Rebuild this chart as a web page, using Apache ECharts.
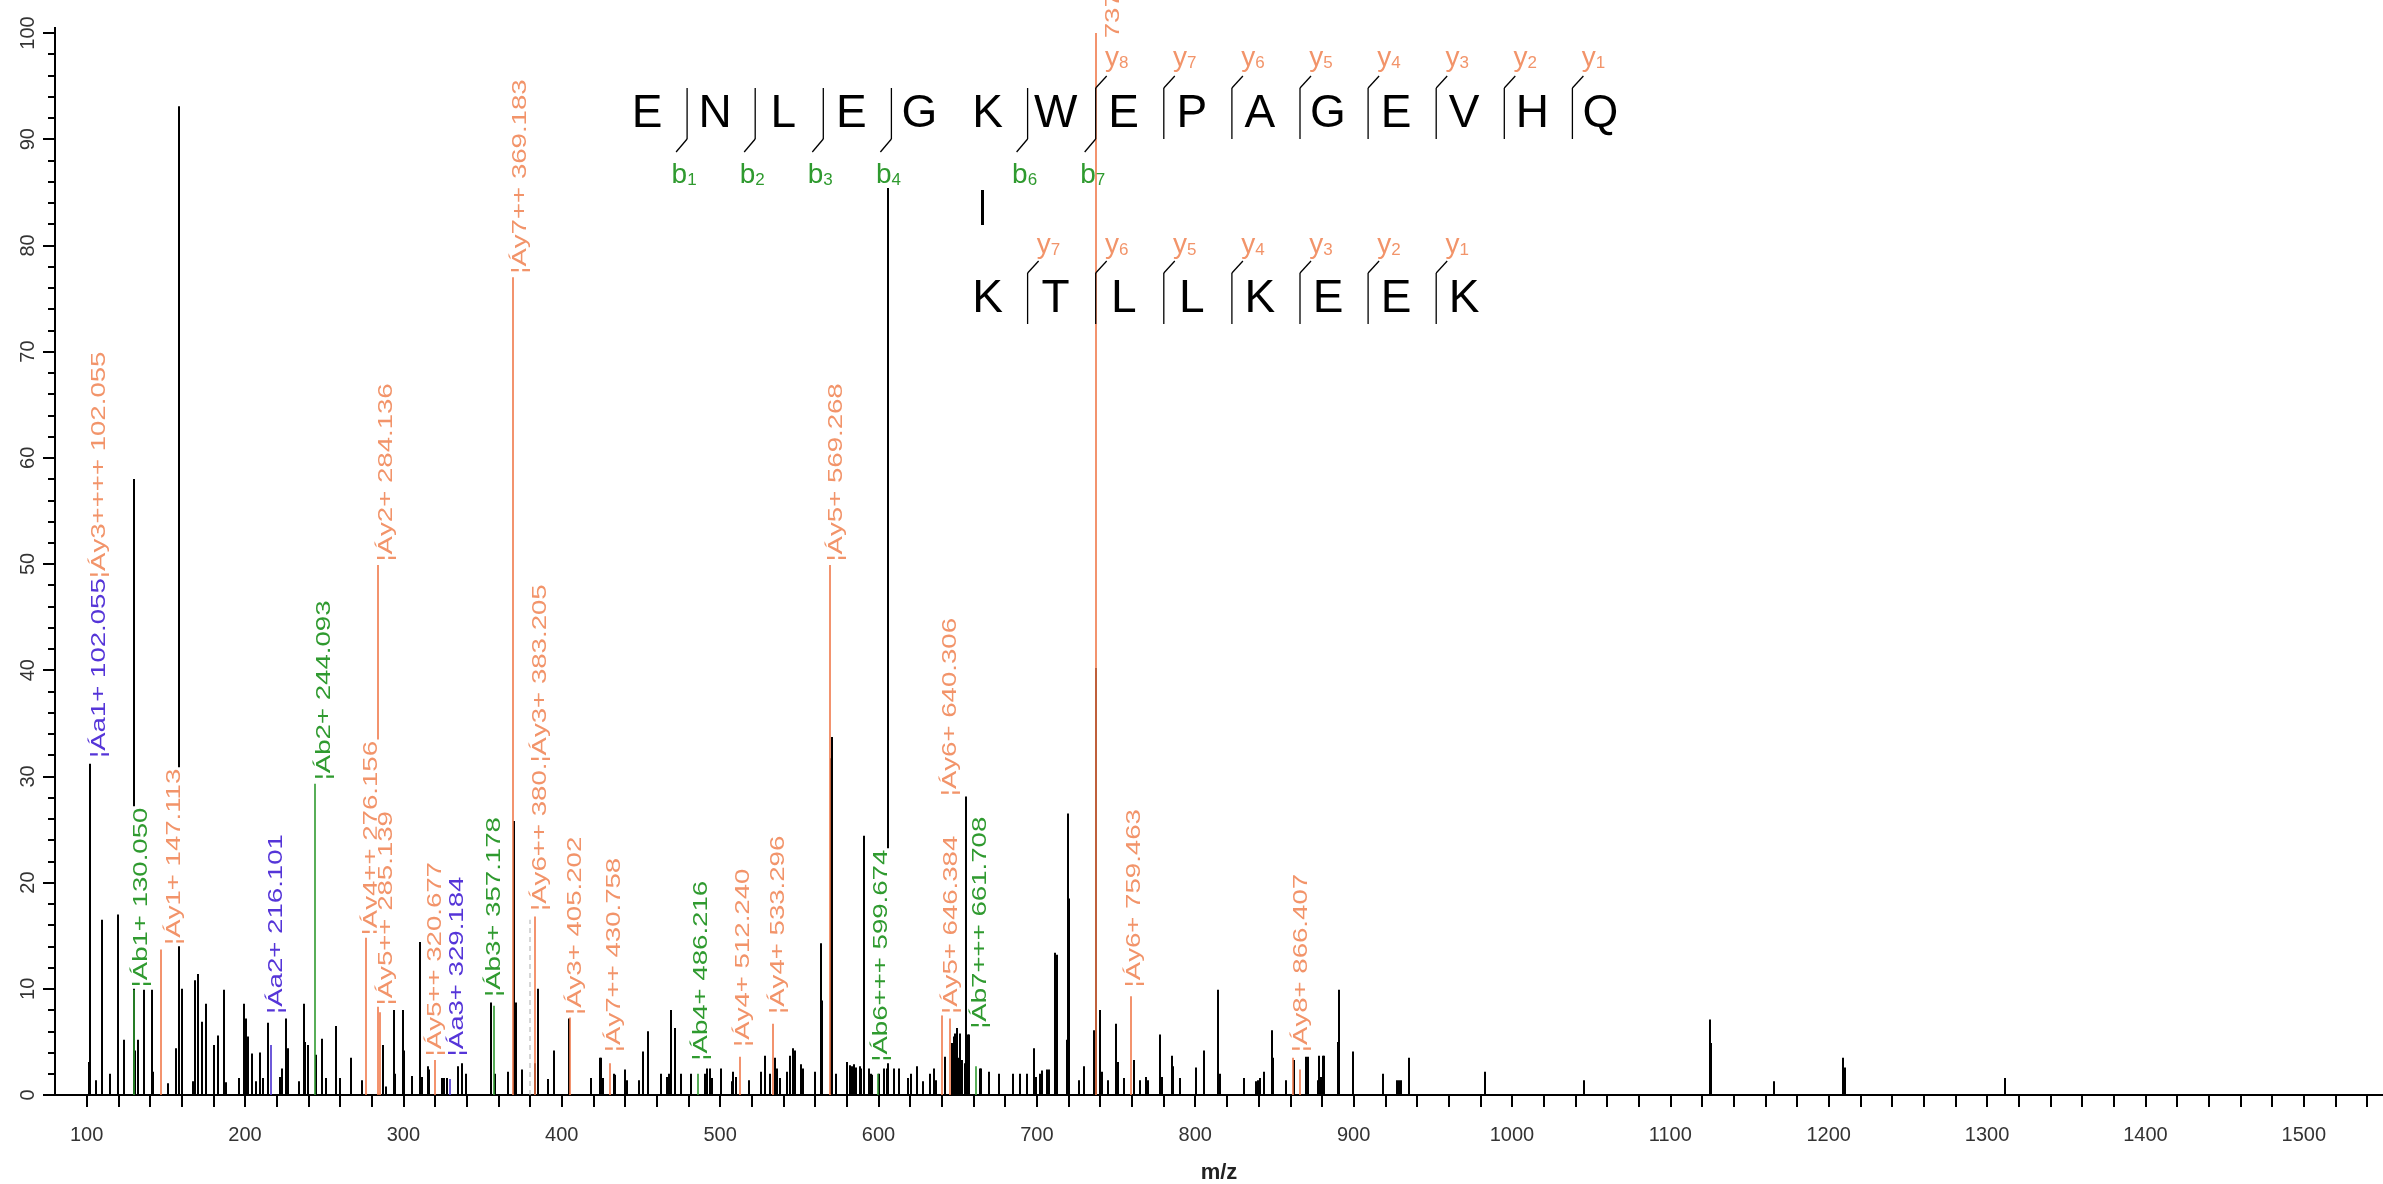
<!DOCTYPE html>
<html>
<head>
<meta charset="utf-8">
<script src="https://cdn.jsdelivr.net/npm/echarts/dist/echarts.min.js"></script>
<style>
  html, body { margin: 0; padding: 0; background: #fff; overflow: hidden; }
  #chart { width: 2383px; height: 1184px; }
</style>
</head>
<body>
<div id="chart"></div>
<script>
// ---------------- data ----------------
const xLabelValues = [100, 200, 300, 400, 500, 600, 700, 800, 900, 1000, 1100, 1200, 1300, 1400, 1500];
const yLabelValues = [0, 10, 20, 30, 40, 50, 60, 70, 80, 90, 100];

// unannotated peaks [m/z, relative intensity %]
const blackPeaks = [
  [101.3,3.1],[102.055,31.2],[105.9,1.4],[109.7,16.5],[114.9,2.0],[119.6,17.0],[123.8,5.2],
  [129.6,58.0],[130.6,4.2],[132.4,5.2],[136.2,9.9],[141.3,9.9],[142.1,2.2],[151.4,1.1],
  [156.4,4.4],[158.5,93.1],[160.5,10.0],[167.0,1.3],[168.6,10.8],[170.1,11.4],[172.8,6.9],
  [175.4,8.6],[180.4,4.7],[183.2,5.6],[186.9,9.9],[188.0,1.2],[196.0,1.6],[199.4,8.6],
  [200.6,7.2],[201.7,5.5],[204.4,3.9],[206.9,1.3],[209.7,4.0],[211.2,1.6],[214.5,6.8],
  [222.0,1.7],[223.4,2.5],[225.9,7.2],[227.0,4.4],[233.9,1.3],[237.1,8.6],[238.1,5.0],
  [239.6,4.7],[244.6,3.8],[248.4,5.3],[251.2,1.6],[257.5,6.5],[260.0,1.6],[267.0,3.5],
  [273.9,1.4],[287.0,4.7],[288.9,0.8],[294.3,8.0],[294.9,2.0],[299.6,8.0],[300.3,4.2],
  [305.5,1.8],[310.5,14.4],[311.6,1.7],[315.4,2.7],[316.4,2.4],[324.4,1.6],[325.8,1.6],
  [327.3,1.6],[334.3,2.7],[337.0,3.0],[339.6,2.0],[355.0,8.7],[357.6,2.0],[366.3,2.2],
  [369.9,25.8],[371.0,8.7],[374.9,2.4],[383.4,3.0],[384.8,10.0],[391.2,1.5],[394.9,4.2],
  [404.4,7.2],[418.5,1.6],[424.2,3.5],[424.9,3.5],[426.3,1.6],[433.2,2.0],[433.8,1.9],
  [440.2,2.4],[441.0,1.4],[449.0,1.4],[451.5,4.1],[454.2,6.0],[462.6,2.0],[466.4,1.7],
  [467.9,2.0],[469.2,8.0],[471.7,6.3],[475.5,2.0],[481.6,2.0],[490.6,2.0],[492.0,2.5],
  [493.5,2.5],[494.8,1.6],[500.7,2.5],[507.4,1.3],[508.4,2.2],[509.9,1.7],[518.3,1.4],
  [525.9,2.2],[528.4,3.7],[531.3,2.0],[534.7,3.5],[536.2,2.5],[537.7,1.6],[542.5,2.2],
  [544.0,3.7],[546.0,4.4],[547.3,4.2],[550.9,2.9],[552.4,2.5],[559.9,2.2],[563.5,14.3],
  [564.5,8.9],[569.7,31.7],[570.4,33.7],[572.9,2.0],[580.3,3.1],[581.8,2.8],[583.5,2.7],
  [584.5,2.9],[586.0,2.6],[588.0,2.7],[589.2,2.5],[590.8,24.4],[593.9,2.5],[595.0,2.0],
  [596.0,1.9],[600.3,2.0],[603.4,2.5],[605.5,2.5],[606.2,88.0],[609.7,2.5],[612.9,2.5],
  [618.7,1.6],[620.8,2.0],[624.0,2.7],[628.0,1.3],[632.8,2.0],[634.9,2.5],[636.4,1.4],
  [642.0,3.6],[646.5,4.9],[647.5,5.5],[648.6,5.8],[649.6,6.3],[650.7,3.5],[651.7,5.8],
  [652.7,3.3],[654.8,3.0],[655.5,28.1],[656.5,5.7],[657.4,5.7],[664.0,2.5],[664.9,2.5],
  [669.6,2.2],[676.3,2.0],[684.7,2.0],[689.5,2.0],[693.7,2.0],[697.9,4.4],[699.4,1.7],
  [702.1,2.0],[703.5,2.3],[706.3,2.4],[707.8,2.4],[711.6,13.4],[712.6,13.2],[718.9,5.2],
  [719.7,26.5],[720.3,18.5],[726.3,1.4],[729.5,2.7],[735.8,6.1],[737.6,40.2],[740.0,8.0],
  [741.0,2.2],[745.2,1.4],[750.0,6.7],[751.1,3.1],[755.3,1.6],[761.4,3.3],[765.2,1.4],
  [768.9,1.7],[769.9,1.4],[777.7,5.7],[778.8,1.7],[785.1,3.7],[786.1,2.7],[790.3,1.6],
  [800.2,2.6],[805.4,4.2],[814.4,9.9],[815.5,2.0],[830.8,1.6],[838.1,1.3],[839.6,1.4],
  [840.8,1.6],[843.1,2.2],[848.4,6.1],[849.2,3.5],[857.4,1.4],[862.2,3.3],[870.0,3.6],
  [871.0,3.6],[877.3,1.4],[878.4,3.7],[879.4,1.7],[880.5,3.7],[881.4,3.7],[889.9,5.0],
  [891.0,9.9],[899.7,4.1],[918.8,2.0],[927.2,1.4],[928.7,1.4],[930.2,1.4],[935.0,3.5],
  [982.8,2.2],[1045.7,1.4],[1125.3,7.1],[1125.8,4.9],[1165.6,1.3],[1209.1,3.5],[1210.0,2.6],
  [1311.2,1.6]
];
// matched y ions (orange)
const yIonPeaks = [
  [147.113,13.7],[276.156,14.8],[284.136,49.9],[285.139,7.8],[320.2,3.3],[369.183,77.0],
  [383.205,16.8],[405.202,7.3],[430.758,3.0],[512.240,3.6],[533.296,6.7],[569.268,49.9],
  [640.306,7.5],[645.2,7.2],[737.4,100],[759.463,9.3],[861.6,3.5],[866.407,2.4]
];
// matched b ions (green)
const bIonPeaks = [[130.050,9.9],[244.093,29.3],[357.178,8.4],[486.216,2.0],[599.674,2.0],[661.708,2.7]];
// matched a ions (blue)
const aIonPeaks = [[216.101,4.7],[329.184,1.5]];
// tentative match (dashed)
const dashedPeaks = [[380.2,16.5]];

// annotations: [label centre m/z, label base intensity, text]
const annotations = [
  [108.0, 31.6, '{a|¦Áa1+ 102.055}{y|¦Áy3++++ 102.055}'],
  [134.5, 10.0, '{b|¦Áb1+ 130.050}'],
  [155.5, 14.0, '{y|¦Áy1+ 147.113}'],
  [220.0, 7.5,  '{a|¦Áa2+ 216.101}'],
  [250.0, 29.5, '{b|¦Áb2+ 244.093}'],
  [280.0, 14.9, '{y|¦Áy4++ 276.156}'],
  [289.0, 50.1, '{y|¦Áy2+ 284.136}'],
  [289.5, 8.3,  '{y|¦Áy5++ 285.139}'],
  [320.5, 3.5,  '{y|¦Áy5++ 320.677}'],
  [334.0, 3.5,  '{a|¦Áa3+ 329.184}'],
  [357.5, 9.1,  '{b|¦Áb3+ 357.178}'],
  [373.8, 77.2, '{y|¦Áy7++ 369.183}'],
  [386.8, 17.2, '{y|¦Áy6++ 380.¦Áy3+ 383.205}'],
  [408.5, 7.4,  '{y|¦Áy3+ 405.202}'],
  [433.5, 3.9,  '{y|¦Áy7++ 430.758}'],
  [488.5, 3.1,  '{b|¦Áb4+ 486.216}'],
  [515.0, 4.4,  '{y|¦Áy4+ 512.240}'],
  [536.7, 7.5,  '{y|¦Áy4+ 533.296}'],
  [573.5, 50.1, '{y|¦Áy5+ 569.268}'],
  [601.7, 3.0,  '{b|¦Áb6+++ 599.674}'],
  [645.2, 28.0, '{y|¦Áy6+ 640.306}'],
  [645.8, 7.5,  '{y|¦Áy5+ 646.384}'],
  [664.5, 6.1,  '{b|¦Áb7+++ 661.708}'],
  [761.6, 10.0, '{y|¦Áy6+ 759.463}'],
  [867.0, 3.9,  '{y|¦Áy8+ 866.407}']
];
// label of the base peak, largely hidden behind the sequence panel
const basePeakLabel = [748.5, 85.4, '{y|¦Áy8++ 737.737}'];

// peptide sequences
const sequence1 = ['E','N','L','E','G','K','W','E','P','A','G','E','V','H','Q'];
const sequence2 = ['K','T','L','L','K','E','E','K'];
const bIons1 = [1, 2, 3, 4, 6, 7];
const yIons1 = [8, 7, 6, 5, 4, 3, 2, 1];
const yIons2 = [7, 6, 5, 4, 3, 2, 1];
const linkResidue1 = 5; // K in sequence 1 linked to first K of sequence 2

// ---------------- styles ----------------
const C_BLACK = '#000000';
const C_Y_LINE = '#F0784A';
const C_Y_TEXT = '#F2946A';
const C_B_LINE = '#2F9A2F';
const C_B_TEXT = '#2F9A2F';
const C_A_LINE = '#4A30D0';
const C_A_TEXT = '#5535D8';
const FONT = '"Liberation Sans", Arial, sans-serif';

const chart = echarts.init(document.getElementById('chart'), null, { renderer: 'canvas' });

function peakSeries(name, data, color, width, z, dash) {
  return {
    type: 'custom', name: name, data: data, z: z, silent: true,
    encode: { x: 0, y: 1 },
    renderItem: function (params, api) {
      const b = api.coord([api.value(0), 0]);
      const t = api.coord([api.value(0), api.value(1)]);
      const x = Math.round(b[0]);
      return {
        type: 'line',
        shape: { x1: x, y1: b[1], x2: x, y2: t[1] },
        style: { stroke: color, lineWidth: width, lineDash: dash ? [5, 4] : null }
      };
    }
  };
}

const LABEL_FONT = 20;
const LABEL_STRETCH = 1.38;
const richStyles = {
  a: { fill: C_A_TEXT, fontSize: LABEL_FONT, fontFamily: FONT },
  b: { fill: C_B_TEXT, fontSize: LABEL_FONT, fontFamily: FONT },
  y: { fill: C_Y_TEXT, fontSize: LABEL_FONT, fontFamily: FONT }
};

function labelSeries(name, rows, z) {
  return {
    type: 'custom', name: name, z: z, silent: true,
    data: rows.map(function (a, i) { return [a[0], a[1], i]; }),
    encode: { x: 0, y: 1 },
    renderItem: function (params, api) {
      const p = api.coord([api.value(0), api.value(1)]);
      const txt = rows[api.value(2)][2];
      return {
        type: 'text',
        x: p[0], y: p[1],
        rotation: Math.PI / 2,
        scaleX: LABEL_STRETCH,
        style: {
          text: txt, rich: richStyles,
          fontSize: LABEL_FONT, fontFamily: FONT,
          textAlign: 'left', textVerticalAlign: 'middle',
          backgroundColor: '#ffffff', padding: [0, 1, 0, 1]
        }
      };
    }
  };
}

// ---------------- peptide graphic ----------------
const SEQ_X0 = 647, SEQ_DX = 68.1, ROW1_Y = 114, ROW2_Y = 299;
const graphics = [];
graphics.push({ type: 'rect', z: 3, silent: true, shape: { x: 630, y: 38, width: 990, height: 150 }, style: { fill: '#ffffff' } });
// small axis overhangs of the original plot frame
graphics.push({ type: 'line', z: 30, silent: true, shape: { x1: 43, y1: 1095, x2: 56, y2: 1095 }, style: { stroke: '#000', lineWidth: 2 } });
graphics.push({ type: 'line', z: 30, silent: true, shape: { x1: 55, y1: 27, x2: 55, y2: 34 }, style: { stroke: '#000', lineWidth: 2 } });
function letter(ch, x, y) {
  graphics.push({ type: 'text', x: x, y: y, z: 20,
    style: { text: ch, fontSize: 46, fontFamily: FONT, fill: '#000', textAlign: 'center', textVerticalAlign: 'middle' } });
}
function seg(x1, y1, x2, y2, w) {
  graphics.push({ type: 'line', z: 20, shape: { x1: x1, y1: y1, x2: x2, y2: y2 }, style: { stroke: '#000', lineWidth: w || 1.3 } });
}
function ionLabel(kind, num, x, y) {
  const col = kind === 'b' ? C_B_TEXT : C_Y_TEXT;
  graphics.push({ type: 'text', x: x, y: y, z: 20,
    style: { text: '{m|' + kind + '}{s|' + num + '}', textAlign: 'center', textVerticalAlign: 'middle',
      rich: { m: { fontSize: 28, fill: col, fontFamily: FONT }, s: { fontSize: 17, fill: col, fontFamily: FONT, verticalAlign: 'bottom' } } } });
}
sequence1.forEach(function (ch, i) { letter(ch, SEQ_X0 + i * SEQ_DX, ROW1_Y); });
sequence2.forEach(function (ch, i) { letter(ch, SEQ_X0 + (linkResidue1 + i) * SEQ_DX, ROW2_Y); });
for (let i = 0; i < sequence1.length - 1; i++) {
  const bNum = i + 1, yNum = sequence1.length - (i + 1);
  const hasB = bIons1.indexOf(bNum) >= 0, hasY = yIons1.indexOf(yNum) >= 0;
  if (!hasB && !hasY) continue;
  const x = SEQ_X0 + (i + 1) * SEQ_DX - 28;
  seg(x, ROW1_Y - 26, x, ROW1_Y + 25);
  if (hasB) { seg(x, ROW1_Y + 25, x - 11, ROW1_Y + 38); ionLabel('b', bNum, x - 3, ROW1_Y + 61); }
  if (hasY) { seg(x, ROW1_Y - 26, x + 11, ROW1_Y - 38); ionLabel('y', yNum, x + 21, ROW1_Y - 56); }
}
for (let i = 0; i < sequence2.length - 1; i++) {
  const yNum = sequence2.length - (i + 1);
  if (yIons2.indexOf(yNum) < 0) continue;
  const x = SEQ_X0 + (linkResidue1 + i + 1) * SEQ_DX - 28;
  seg(x, ROW2_Y - 26, x, ROW2_Y + 25);
  seg(x, ROW2_Y - 26, x + 11, ROW2_Y - 38);
  ionLabel('y', yNum, x + 21, ROW2_Y - 54);
}
seg(SEQ_X0 + linkResidue1 * SEQ_DX - 5, 190, SEQ_X0 + linkResidue1 * SEQ_DX - 5, 225, 3);

const xTickValues = [];
for (let v = 100; v <= 1540; v += 20) xTickValues.push(v);

const option = {
  animation: false,
  backgroundColor: '#ffffff',
  grid: { left: 55, right: 0, top: 33, bottom: 89, containLabel: false, outerBoundsMode: 'none' },
  xAxis: {
    type: 'value', min: 80, max: 1550,
    name: 'm/z', nameLocation: 'middle', nameGap: 67,
    nameTextStyle: { fontSize: 22, fontWeight: 'bold', fontFamily: FONT, color: '#222' },
    axisLine: { show: true, lineStyle: { color: '#000', width: 2 } },
    axisTick: { show: true, length: 12, customValues: xTickValues, lineStyle: { color: '#000', width: 2 } },
    axisLabel: { customValues: xLabelValues, fontSize: 20, fontFamily: FONT, color: '#333', margin: 30,
      formatter: function (v) { return String(v); } },
    splitLine: { show: false }
  },
  yAxis: {
    type: 'value', min: 0, max: 100, interval: 10,
    axisLine: { show: true, lineStyle: { color: '#000', width: 2 } },
    axisTick: { show: true, length: 12, lineStyle: { color: '#000', width: 2 } },
    minorTick: { show: true, splitNumber: 5, length: 7, lineStyle: { color: '#000', width: 2 } },
    axisLabel: { rotate: 90, fontSize: 20, fontFamily: FONT, color: '#333', margin: 17,
      formatter: function (v) { return yLabelValues.indexOf(v) >= 0 ? String(v) : ''; } },
    splitLine: { show: false }
  },
  graphic: graphics,
  series: [
    peakSeries('unmatched', blackPeaks, C_BLACK, 2, 2, false),
    labelSeries('base label', [basePeakLabel], 2),
    peakSeries('tentative', dashedPeaks, '#bbbbbb', 1.2, 4, true),
    peakSeries('a ions', aIonPeaks, C_A_LINE, 1.6, 4, false),
    peakSeries('b ions', bIonPeaks, C_B_LINE, 1.6, 4, false),
    peakSeries('y ions', yIonPeaks, C_Y_LINE, 1.6, 4, false),
    labelSeries('labels', annotations, 10)
  ]
};
chart.setOption(option);
</script>
</body>
</html>
